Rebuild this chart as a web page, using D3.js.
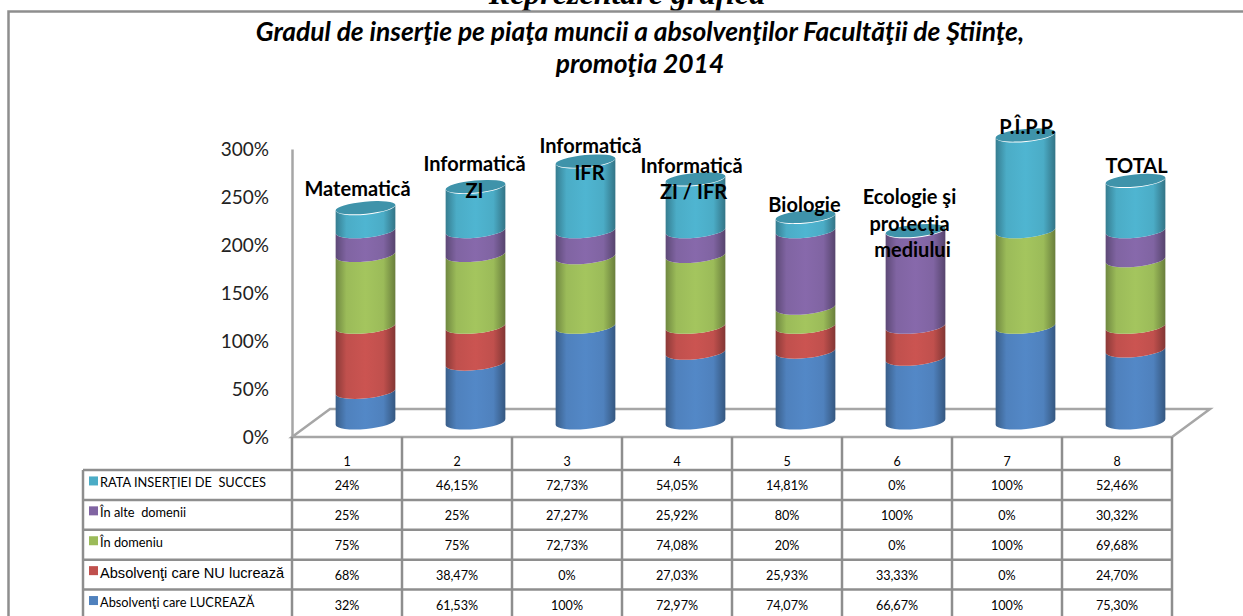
<!DOCTYPE html>
<html>
<head>
<meta charset="utf-8">
<script src="https://d3js.org/d3.v7.min.js"></script>
<style>
html, body { margin: 0; padding: 0; background: #fff; overflow: hidden; }
svg { display: block; }
text { white-space: pre; }
</style>
</head>
<body>
<div id="chart"></div>
<script>
// data
var columns = ["1", "2", "3", "4", "5", "6", "7", "8"];
var seriesNames = ["Absolvenţi care LUCREAZĂ", "Absolvenţi care NU lucrează", "În domeniu", "În alte  domenii", "RATA INSERŢIEI DE  SUCCES"];
var seriesColors = ["#4f81bd", "#c0504d", "#9bbb59", "#8064a2", "#4bacc6"];
var lucreaza = [32, 61.53, 100, 72.97, 74.07, 66.67, 100, 75.30];
var nuLucreaza = [68, 38.47, 0, 27.03, 25.93, 33.33, 0, 24.70];
var inDomeniu = [75, 75, 72.73, 74.08, 20, 0, 100, 69.68];
var altDomeniu = [25, 25, 27.27, 25.92, 80, 100, 0, 30.32];
var rataSucces = [24, 46.15, 72.73, 54.05, 14.81, 0, 100, 52.46];
var yTicks = [0, 50, 100, 150, 200, 250, 300];
var categoryLines = [
    ["Matematică"],
    ["Informatică", "ZI"],
    ["Informatică", "IFR"],
    ["Informatică", "ZI / IFR"],
    ["Biologie"],
    ["Ecologie şi", "protecţia", "mediului"],
    ["P.Î.P.P."],
    ["TOTAL"]
];
var titleLines = ["Gradul de inserţie pe piaţa muncii a absolvenţilor Facultăţii de Ştiinţe,", "promoţia 2014"];
var pageHeading = "Reprezentare grafică";

var w = 1243, h = 616;
var lineGray = "#8e8e8e";

// label offsets from the top centre of each column, one per text line
var labelOffsets = [
    [[-8, -19]],
    [[-1, -23], [-1, 4]],
    [[5, -15], [4, 12]],
    [[-4, -13], [-2, 13]],
    [[-1, -11]],
    [[-6, -34], [-6, -7], [-3, 19]],
    [[2, -8]],
    [[1, -14]]
];

var seriesValues = [lucreaza, nuLucreaza, inDomeniu, altDomeniu, rataSucces];
var rows = columns.map(function (c, i) {
    var row = {column: c};
    seriesNames.forEach(function (name, s) { row[name] = seriesValues[s][i]; });
    return row;
});
var stacked = d3.stack().keys(seriesNames)(rows);

var svg = d3.select("#chart").append("svg").attr("width", w).attr("height", h);

var x = d3.scaleBand().domain(columns).range([292, 1172]);
var y = d3.scaleLinear().domain([0, 300]).range([437, 149]);
// the columns stand on the 3d floor so they have their own scale
var yBar = d3.scaleLinear().domain([0, 300]).range([422, 135]);

var depth = 18.5, rx = 30, ry = 7, tilt = -5.5;
var tiltRad = tilt * Math.PI / 180;
var dxEnd = rx * Math.cos(tiltRad), dyEnd = rx * Math.sin(tiltRad);

function centre(c) { return x(c) + x.bandwidth() / 2 + depth; }

function percent(v) {
    return (Number.isInteger(v) ? String(v) : v.toFixed(2).replace(".", ",")) + "%";
}

// page heading, cut by the top of the picture
svg.append("text")
    .attr("x", 627).attr("y", 4)
    .attr("text-anchor", "middle")
    .style("font", "italic bold 32px 'Liberation Serif'")
    .text(pageHeading);

// frame
svg.append("path")
    .attr("d", "M8.5," + (h + 5) + "V11.5H" + (w + 5))
    .attr("fill", "none").attr("stroke", lineGray).attr("stroke-width", 2.5);

// title
svg.selectAll(".title").data(titleLines).enter().append("text")
    .attr("class", "title")
    .attr("x", 640)
    .attr("y", function (d, i) { return 41 + i * 32; })
    .attr("text-anchor", "middle")
    .style("font", "italic bold 26.4px Lato")
    .text(function (d) { return d; });

// y axis
var yAxis = d3.axisLeft(y).tickValues(yTicks).tickSize(0).tickPadding(23)
    .tickFormat(function (d) { return d + "%"; });
var axisG = svg.append("g").attr("transform", "translate(292,0)").call(yAxis);
axisG.select(".domain").attr("stroke", "#a6a6a6").attr("stroke-width", 2.5);
axisG.selectAll("text").style("font", "19px Lato").attr("fill", "#222");

// floor
svg.append("path")
    .attr("d", "M" + x.range()[0] + "," + y(0) + "L330,409H1210L" + x.range()[1] + "," + y(0) + "Z")
    .attr("fill", "#fff").attr("stroke", "#a6a6a6").attr("stroke-width", 2.5);

// column gradients
var defs = svg.append("defs");
seriesColors.forEach(function (col, i) {
    var g = defs.append("linearGradient").attr("id", "shade" + i);
    var stops = [[0, d3.color(col).darker(0.9)], [0.18, d3.color(col)], [0.5, d3.color(col).brighter(0.15)], [0.8, d3.color(col)], [1, d3.color(col).darker(1.1)]];
    stops.forEach(function (s) {
        g.append("stop").attr("offset", s[0]).attr("stop-color", s[1].formatHex());
    });
});

function segmentPath(c, v0, v1) {
    var cx = centre(c), y0 = yBar(v0), y1 = yBar(v1);
    return "M" + (cx - dxEnd) + "," + (y1 - dyEnd) +
        "L" + (cx - dxEnd) + "," + (y0 - dyEnd) +
        "A" + rx + "," + ry + " " + tilt + " 0 0 " + (cx + dxEnd) + "," + (y0 + dyEnd) +
        "L" + (cx + dxEnd) + "," + (y1 + dyEnd) +
        "A" + rx + "," + ry + " " + tilt + " 0 1 " + (cx - dxEnd) + "," + (y1 - dyEnd) + "Z";
}

// stacked cylinders
var layers = svg.selectAll(".layer").data(stacked).enter().append("g")
    .attr("class", "layer")
    .attr("fill", function (d, i) { return "url(#shade" + i + ")"; });

layers.selectAll("path")
    .data(function (d) { return d.filter(function (p) { return p[1] > p[0]; }); })
    .enter().append("path")
    .attr("d", function (d) { return segmentPath(d.data.column, d[0], d[1]); });

// top caps
var totals = rows.map(function (r, i) { return stacked[stacked.length - 1][i][1]; });
svg.selectAll(".cap").data(columns).enter().append("ellipse")
    .attr("class", "cap")
    .attr("rx", rx).attr("ry", 6)
    .attr("transform", function (c, i) {
        return "translate(" + centre(c) + "," + yBar(totals[i]) + ") rotate(" + tilt + ")";
    })
    .attr("fill", "#3f93aa");

// category labels
columns.forEach(function (c, i) {
    svg.selectAll(".lab" + i).data(categoryLines[i]).enter().append("text")
        .attr("class", "lab" + i)
        .attr("x", function (d, j) { return centre(c) + labelOffsets[i][j][0]; })
        .attr("y", function (d, j) { return yBar(totals[i]) + labelOffsets[i][j][1]; })
        .attr("dy", "0.35em")
        .attr("text-anchor", "middle")
        .style("font", "bold 20px Lato")
        .text(function (d) { return d; });
});

// data table under the chart
var tableLeft = 83, tableTop = y(0), headBottom = 470;
var rowY = d3.scaleBand().domain(d3.range(5)).range([headBottom, 619.5]);
var tableSeries = d3.range(5).reverse();

var table = svg.append("g").attr("stroke", lineGray).attr("stroke-width", 2.5);
columns.forEach(function (c) {
    table.append("line").attr("x1", x(c)).attr("x2", x(c)).attr("y1", tableTop).attr("y2", h + 5);
});
table.append("line").attr("x1", x.range()[1]).attr("x2", x.range()[1]).attr("y1", tableTop).attr("y2", h + 5);
table.append("line").attr("x1", tableLeft).attr("x2", tableLeft).attr("y1", headBottom).attr("y2", h + 5);
d3.range(5).forEach(function (r) {
    table.append("line").attr("x1", tableLeft).attr("x2", x.range()[1]).attr("y1", rowY(r)).attr("y2", rowY(r));
});

svg.selectAll(".head").data(columns).enter().append("text")
    .attr("class", "head")
    .attr("x", function (c) { return x(c) + x.bandwidth() / 2; })
    .attr("y", 462)
    .attr("dy", "0.35em")
    .attr("text-anchor", "middle")
    .style("font", "12.5px Lato")
    .text(function (c) { return c; });

tableSeries.forEach(function (s, r) {
    var midY = rowY(r) + rowY.bandwidth() / 2;
    svg.append("rect")
        .attr("x", 89).attr("y", midY - 8.5)
        .attr("width", 9).attr("height", 9)
        .attr("fill", seriesColors[s]);
    svg.append("text")
        .attr("x", 100).attr("y", midY - 2)
        .attr("dy", "0.35em")
        .style("font", s == 1 ? "14.6px 'Liberation Sans'" : "12.8px Lato")
        .text(seriesNames[s]);
    svg.selectAll(".cell" + s).data(seriesValues[s]).enter().append("text")
        .attr("class", "cell" + s)
        .attr("x", function (v, i) { return x(columns[i]) + x.bandwidth() / 2; })
        .attr("y", midY + 1)
        .attr("dy", "0.35em")
        .attr("text-anchor", "middle")
        .style("font", "12.6px Lato")
        .text(percent);
});
</script>
</body>
</html>
